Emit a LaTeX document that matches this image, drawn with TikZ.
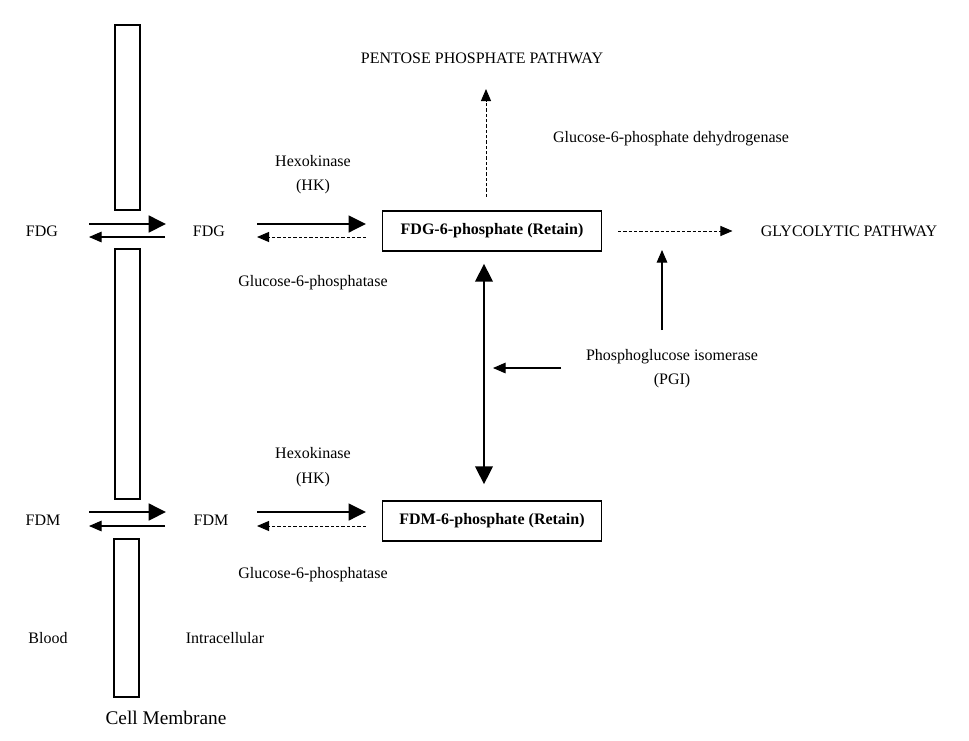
\documentclass[tikz,border=0pt]{standalone}
\usepackage{fontspec}
\setmainfont{Liberation Serif}
\usetikzlibrary{arrows.meta}
\begin{document}
\begin{tikzpicture}[x=0.75pt,y=-0.75pt,
 lbl/.style={inner sep=0pt, font=\fontsize{12}{14}\selectfont},
 boxnode/.style={draw, line width=1.1pt, minimum width=164pt, minimum height=30pt, inner sep=0pt, font=\fontsize{12}{14}\selectfont\bfseries},
 membrane/.style={draw, line width=0.9pt},
 bigarr/.style={line width=2pt, -{Triangle[length=13pt,width=12.5pt]}},
 thinarr/.style={line width=0.8pt, -{Triangle[length=9.5pt,width=8pt]}},
 dasharr/.style={line width=0.7pt, dash pattern=on 2.5pt off 1.5pt, -{Triangle[length=9pt,width=7.5pt]}},
 dblarr/.style={line width=2.2pt, {Triangle[length=13.5pt,width=13pt]}-{Triangle[length=13.5pt,width=13pt]}},
]
\useasboundingbox (0,0) rectangle (969,740);
% membrane segments
\draw[membrane] (115,25) rectangle (140,210);
\draw[membrane] (115,249) rectangle (140,499);
\draw[membrane] (114,539) rectangle (139,697);

% texts
\node[lbl] (pentose) at (482,58) {PENTOSE PHOSPHATE PATHWAY};
\node[lbl] (g6pdh) at (671,139) {Glucose-6-phosphate dehydrogenase};
\node[lbl] (hk1) at (313,161) {Hexokinase};
\node[lbl] (hk1b) at (313,187) {(HK)};
\node[lbl] (fdgL) at (42,231) {FDG};
\node[lbl] (fdgM) at (209,231) {FDG};
\node[boxnode] (fdg6p) at (492,231) {FDG-6-phosphate (Retain)};
\node[lbl] (glyc) at (849,231) {GLYCOLYTIC PATHWAY};
\node[lbl] (g6p1) at (313,283) {Glucose-6-phosphatase};
\node[lbl] (pgi) at (672,357) {Phosphoglucose isomerase};
\node[lbl] (pgib) at (672,381) {(PGI)};
\node[lbl] (hk2) at (313,453) {Hexokinase};
\node[lbl] (hk2b) at (313,480) {(HK)};
\node[lbl] (fdmL) at (43,520) {FDM};
\node[lbl] (fdmM) at (211,520) {FDM};
\node[boxnode] (fdm6p) at (492,521) {FDM-6-phosphate (Retain)};
\node[lbl] (g6p2) at (313,575) {Glucose-6-phosphatase};
\node[lbl] (blood) at (48,638) {Blood};
\node[lbl] (intra) at (225,638) {Intracellular};
\node[inner sep=0pt, font=\fontsize{14.5}{17}\selectfont] (cm) at (166,718) {Cell Membrane};

% FDG row
\coordinate (a1s) at (89,224);  \coordinate (a1e) at (166,224);
\coordinate (a2s) at (165,237); \coordinate (a2e) at (89,237);
\draw[bigarr] (a1s) -- (a1e);
\draw[thinarr] (a2s) -- (a2e);
\coordinate (b1s) at (257,224); \coordinate (b1e) at (fdg6p.west |- b1s);
\coordinate (b2s) at (fdg6p.west |- 0,237); \coordinate (b2e) at (257,237);
\draw[bigarr] (b1s) -- ([xshift=-12pt]b1e);
\draw[dasharr] ([xshift=-12pt]b2s) -- (b2e);
\draw[dasharr] ([xshift=12pt]fdg6p.east) -- ([xshift=-21pt]glyc.west);
\draw[dasharr] ([xshift=-4.5pt,yshift=10pt]fdg6p.north) -- ([xshift=-4.5pt]fdg6p.north |- 0,89);

% FDM row
\coordinate (c1s) at (89,512);  \coordinate (c1e) at (166,512);
\coordinate (c2s) at (165,526); \coordinate (c2e) at (89,526);
\draw[bigarr] (c1s) -- (c1e);
\draw[thinarr] (c2s) -- (c2e);
\coordinate (d1s) at (257,512); \coordinate (d1e) at (fdm6p.west |- d1s);
\coordinate (d2s) at (fdm6p.west |- 0,526); \coordinate (d2e) at (257,526);
\draw[bigarr] (d1s) -- ([xshift=-12pt]d1e);
\draw[dasharr] ([xshift=-12pt]d2s) -- (d2e);

% vertical isomerisation
\draw[dblarr] ([xshift=-6pt,yshift=-9pt]fdg6p.south) -- ([xshift=-6pt,yshift=12pt]fdm6p.north);
\coordinate (pgiArrS) at (561,368);
\coordinate (pgiArrE) at (493,368);
\draw[thinarr] (pgiArrS) -- (pgiArrE);
\coordinate (pgiUpS) at (662,330);
\draw[thinarr] (pgiUpS) -- (662,250);
\end{tikzpicture}
\end{document}
